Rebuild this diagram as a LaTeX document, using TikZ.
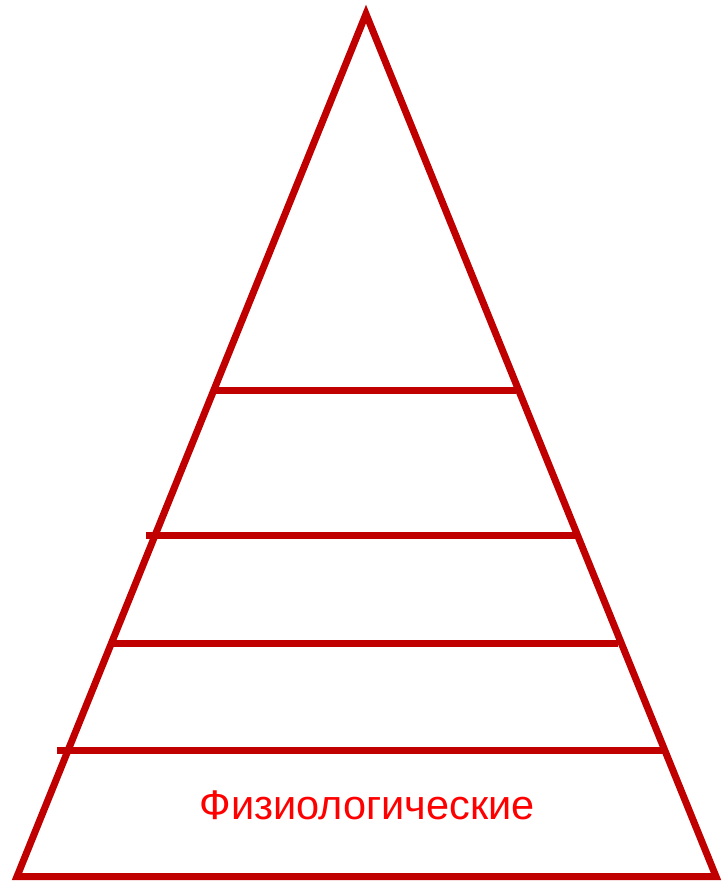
\documentclass[tikz,border=0pt]{standalone}
\usepackage{fontspec}
\setmainfont{Liberation Sans}
\definecolor{pyr}{HTML}{C00000}
\definecolor{txt}{HTML}{FF0000}
\begin{document}
\begin{tikzpicture}[x=1pt,y=-1pt,
  edge/.style={draw=pyr,line width=7pt,line join=miter},
  level/.style={draw=pyr,line width=7pt,line cap=butt},
  label/.style={text=txt,font=\fontsize{41.5}{48}\selectfont,inner sep=0pt,anchor=base}]
\useasboundingbox (0,0) rectangle (721,881);
\coordinate (apex) at (366,14);
\coordinate (bl) at (17,876.5);
\coordinate (br) at (716,876.5);
\draw[edge] (apex) -- (bl) -- (br) -- cycle;
\coordinate (l1a) at (213,390.5); \coordinate (l1b) at (516,390.5);
\coordinate (l2a) at (146,535.5); \coordinate (l2b) at (580,535.5);
\coordinate (l3a) at (113,643);   \coordinate (l3b) at (618,643);
\coordinate (l4a) at (57,750);    \coordinate (l4b) at (663,750);
\draw[level] (l1a) -- (l1b);
\draw[level] (l2a) -- (l2b);
\draw[level] (l3a) -- (l3b);
\draw[level] (l4a) -- (l4b);
\node[label] (phys) at (367,819) {Физиологические};
\end{tikzpicture}
\end{document}
